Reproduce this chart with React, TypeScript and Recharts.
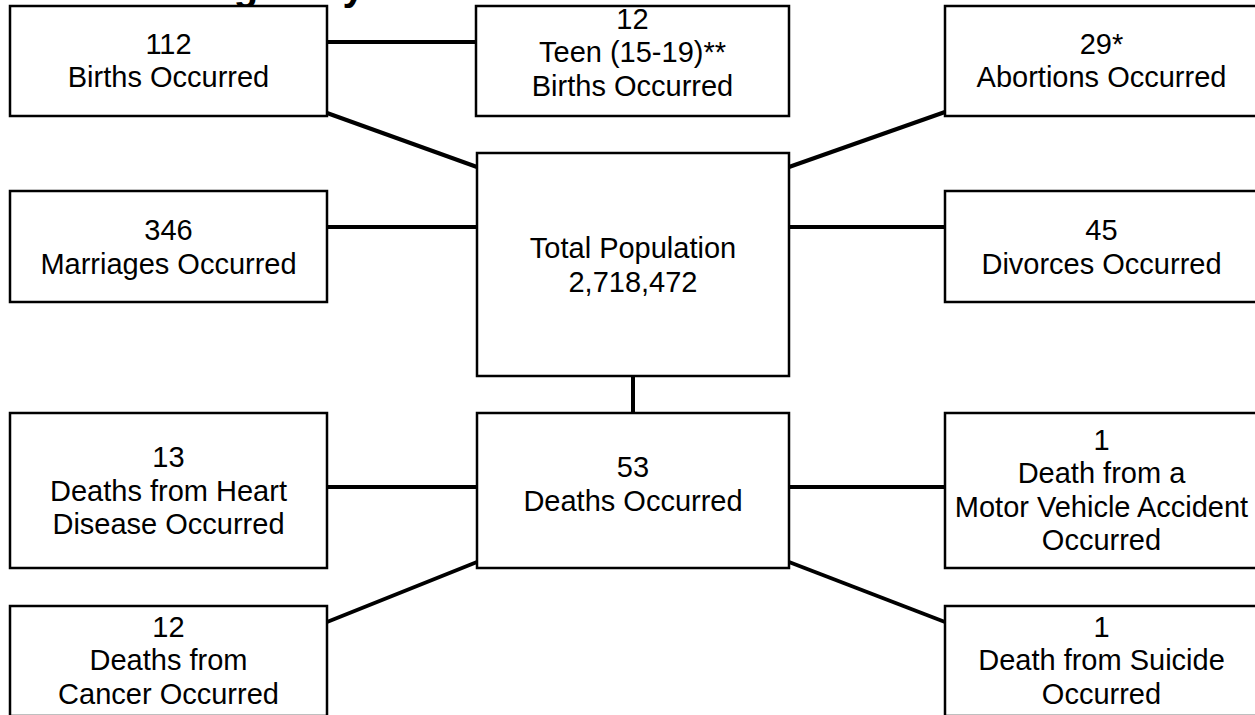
import React from 'react';
import { ScatterChart, Scatter, XAxis, YAxis, ReferenceArea, ReferenceLine } from 'recharts';

// ---- data ----
const nodeIds = ['births', 'teen', 'abortions', 'marriages', 'total', 'divorces', 'heart', 'deaths', 'motor', 'cancer', 'suicide'];
const nodeValues = ['112', '12', '29*', '346', '2,718,472', '45', '13', '53', '1', '12', '1'];
const nodeCaptions: string[][] = [
  ['Births Occurred'],
  ['Teen (15-19)**', 'Births Occurred'],
  ['Abortions Occurred'],
  ['Marriages Occurred'],
  ['Total Population'],
  ['Divorces Occurred'],
  ['Deaths from Heart', 'Disease Occurred'],
  ['Deaths Occurred'],
  ['Death from a', 'Motor Vehicle Accident', 'Occurred'],
  ['Deaths from', 'Cancer Occurred'],
  ['Death from Suicide', 'Occurred'],
];
const valueAfterCaption = ['total'];
const links: [string, string][] = [
  ['births', 'teen'],
  ['births', 'total'],
  ['abortions', 'total'],
  ['marriages', 'total'],
  ['divorces', 'total'],
  ['total', 'deaths'],
  ['heart', 'deaths'],
  ['motor', 'deaths'],
  ['cancer', 'deaths'],
  ['suicide', 'deaths'],
];
const titleText = 'On an Average Day';

// ---- layout (diagram coordinates, kept apart from the data) ----
const W = 1255;
const H = 715;
const nodeLayout: Record<string, { x1: number; x2: number; y1: number; y2: number; shift: number }> = {
  births: { x1: 10, x2: 327, y1: 6, y2: 116, shift: -1 },
  teen: { x1: 476, x2: 789, y1: 6, y2: 116, shift: -9 },
  abortions: { x1: 945, x2: 1258, y1: 6, y2: 116, shift: -1 },
  marriages: { x1: 10, x2: 327, y1: 191, y2: 302, shift: 0 },
  total: { x1: 477, x2: 789, y1: 153, y2: 376, shift: 0 },
  divorces: { x1: 945, x2: 1258, y1: 191, y2: 302, shift: 0 },
  heart: { x1: 10, x2: 327, y1: 413, y2: 568, shift: 0 },
  deaths: { x1: 477, x2: 789, y1: 413, y2: 568, shift: -7 },
  motor: { x1: 945, x2: 1258, y1: 413, y2: 568, shift: -1 },
  cancer: { x1: 10, x2: 327, y1: 606, y2: 716, shift: -1 },
  suicide: { x1: 945, x2: 1258, y1: 606, y2: 716, shift: -1 },
};
const linkLayout: Record<string, [number, number, number, number]> = {
  'births-teen': [327, 42, 476, 42],
  'births-total': [327, 113, 477, 167],
  'abortions-total': [945, 112, 789, 167],
  'marriages-total': [327, 227, 477, 227],
  'divorces-total': [945, 227, 789, 227],
  'total-deaths': [633, 376, 633, 413],
  'heart-deaths': [327, 487, 477, 487],
  'motor-deaths': [945, 487, 789, 487],
  'cancer-deaths': [327, 622, 477, 562],
  'suicide-deaths': [945, 622, 789, 562],
};

const FONT = '"Liberation Sans", Arial, Helvetica, sans-serif';
const FONT_SIZE = 29;
const LINE_H = 33.5;

function BoxText(props: any) {
  const { viewBox, lines, shift } = props;
  if (!viewBox) return null;
  const { x, y, width, height } = viewBox;
  const cx = x + width / 2;
  const cy = y + height / 2 + (shift || 0);
  const first = cy - ((lines.length - 1) * LINE_H) / 2 + FONT_SIZE * 0.358;
  return (
    <text textAnchor="middle" fontFamily={FONT} fontSize={FONT_SIZE} fill="#000">
      {lines.map((l: string, i: number) => (
        <tspan key={i} x={cx} y={first + i * LINE_H}>
          {l}
        </tspan>
      ))}
    </text>
  );
}

export default function App() {
  const centers = nodeIds.map((id) => {
    const L = nodeLayout[id];
    return { x: (L.x1 + L.x2) / 2, y: (L.y1 + L.y2) / 2 };
  });
  return (
    <div style={{ position: 'absolute', left: 0, top: 0, width: W, height: H, overflow: 'hidden', background: '#fff' }}>
      <svg width={W} height={H} style={{ position: 'absolute', left: 0, top: 0 }}>
        <text x={1} y={0} fontFamily={FONT} fontWeight="bold" fontSize={40} fill="#000">
          {titleText}
        </text>
      </svg>
      <div style={{ position: 'absolute', left: 0, top: 0 }}>
        <ScatterChart width={W} height={H} margin={{ top: 0, right: 0, bottom: 0, left: 0 }}>
          <XAxis type="number" dataKey="x" domain={[0, W]} hide allowDataOverflow />
          <YAxis type="number" dataKey="y" domain={[0, H]} reversed hide allowDataOverflow />
          {links.map(([a, b]) => {
            const s = linkLayout[`${a}-${b}`];
            return (
              <ReferenceLine
                key={`${a}-${b}`}
                segment={[{ x: s[0], y: s[1] }, { x: s[2], y: s[3] }]}
                stroke="#000"
                strokeWidth={4}
                ifOverflow="visible"
              />
            );
          })}
          {nodeIds.map((id, i) => {
            const L = nodeLayout[id];
            const lines = valueAfterCaption.includes(id)
              ? [...nodeCaptions[i], nodeValues[i]]
              : [nodeValues[i], ...nodeCaptions[i]];
            return (
              <ReferenceArea
                key={id}
                x1={L.x1}
                x2={L.x2}
                y1={L.y1}
                y2={L.y2}
                fill="#fff"
                fillOpacity={1}
                stroke="#000"
                strokeWidth={2.5}
                ifOverflow="visible"
                label={(p: any) => <BoxText viewBox={p.viewBox} lines={lines} shift={L.shift} />}
              />
            );
          })}
          <Scatter data={centers} fill="transparent" isAnimationActive={false} shape={() => <g />} />
        </ScatterChart>
      </div>
    </div>
  );
}
